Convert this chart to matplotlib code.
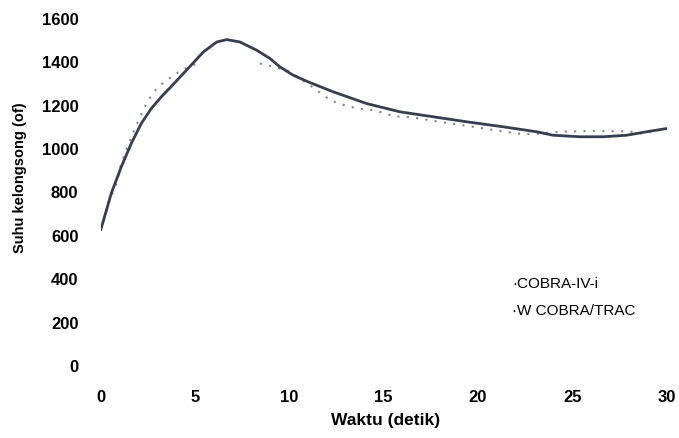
import matplotlib
matplotlib.use("Agg")
import matplotlib.pyplot as plt
import numpy as np

plt.rcParams['font.family'] = ['Liberation Sans', 'DejaVu Sans']

# Solid curve (COBRA-IV-i)
t_solid = [0, 0.56, 1.09, 1.62, 2.15, 2.68, 3.2, 3.7, 4.2, 4.75, 5.44, 6.15, 6.68, 7.38, 8.27, 8.97, 9.5, 10.2,
           11.0, 12.33, 14.1, 15.86, 17.63, 19.4, 21.33, 23.1, 23.98, 25.4, 26.63, 27.87, 28.93, 30.0]
y_solid = [627, 796, 918, 1026, 1118, 1187, 1240, 1285, 1332, 1383, 1448, 1494, 1505, 1494, 1456, 1418, 1379, 1341,
           1310, 1264, 1210, 1172, 1149, 1126, 1103, 1080, 1064, 1057, 1057, 1064, 1080, 1095]

# Dotted curve (W COBRA/TRAC); NaN marks the gap where it is not visible
t_dot = [0, 0.5, 0.83, 1.09, 1.45, 1.89, 2.42, 2.77, 3.04, 3.74, 4.3, 4.98, 5.35, 6.9,
         8.44, 8.8, 9.24, 9.86, 10.5, 11.0, 11.45, 11.8, 12.15, 13.0, 13.65, 14.45, 14.98, 15.5,
         16.57, 18.0, 19.0, 19.75, 20.63, 21.87, 22.4, 23.3, 24.35, 25.75, 27.5, 28.2, 28.67, 29.2, 30.0]
y_dot = [627, 770, 842, 934, 1018, 1111, 1210, 1257, 1287, 1333, 1365, 1390, 1402, np.nan,
         1395, 1387, 1379, 1364, 1330, 1300, 1272, 1249, 1226, 1200, 1187, 1180, 1167, 1152,
         1146, 1125, 1112, 1103, 1091, 1075, 1069, 1072, 1080, 1083, 1083, 1080, 1072, 1080, 1095]

x_ticks = [0, 5, 10, 15, 20, 25, 30]
y_ticks = [0, 200, 400, 600, 800, 1000, 1200, 1400, 1600]
legend_labels = ["COBRA-IV-i", "W COBRA/TRAC"]

W, H = 679, 438
fig = plt.figure(figsize=(W / 100, H / 100), dpi=100)
x0, x1 = 100.7, 666.7
yb, yt = 366, 19
ax = fig.add_axes([x0 / W, 1 - yb / H, (x1 - x0) / W, (yb - yt) / H])

ax.plot(t_dot, y_dot, color='#80858e', lw=1.5, ls=(0, (1, 3.5)), zorder=2)
ax.plot(t_solid, y_solid, color='#363e52', lw=2.0, solid_capstyle='round',
        solid_joinstyle='round', zorder=3)

ax.set_xlim(0, 30)
ax.set_ylim(0, 1600)
ax.set_xticks(x_ticks)
ax.set_yticks(y_ticks)
ax.set_xticklabels([str(v) for v in x_ticks], fontsize=12, fontweight='bold')
ax.set_yticklabels([str(v) for v in y_ticks], fontsize=12, fontweight='bold')
ax.tick_params(axis='x', length=0, pad=17)
ax.tick_params(axis='y', length=0, pad=16)
for s in ax.spines.values():
    s.set_visible(False)

fig.text(386 / W, 1 - 421 / H, "Waktu (detik)", ha='center', va='center', fontsize=12.5, fontweight='bold')
fig.text(20 / W, 1 - 178 / H, "Suhu kelongsong (of)", ha='center', va='center', rotation=90,
         fontsize=10.5, fontweight='bold')

fig.text(512 / W, 1 - 284 / H, "\u00b7" + legend_labels[0], ha='left', va='center', fontsize=11)
fig.text(512 / W, 1 - 311 / H, "\u00b7" + legend_labels[1], ha='left', va='center', fontsize=11)

fig.savefig("out.png", dpi=100)
